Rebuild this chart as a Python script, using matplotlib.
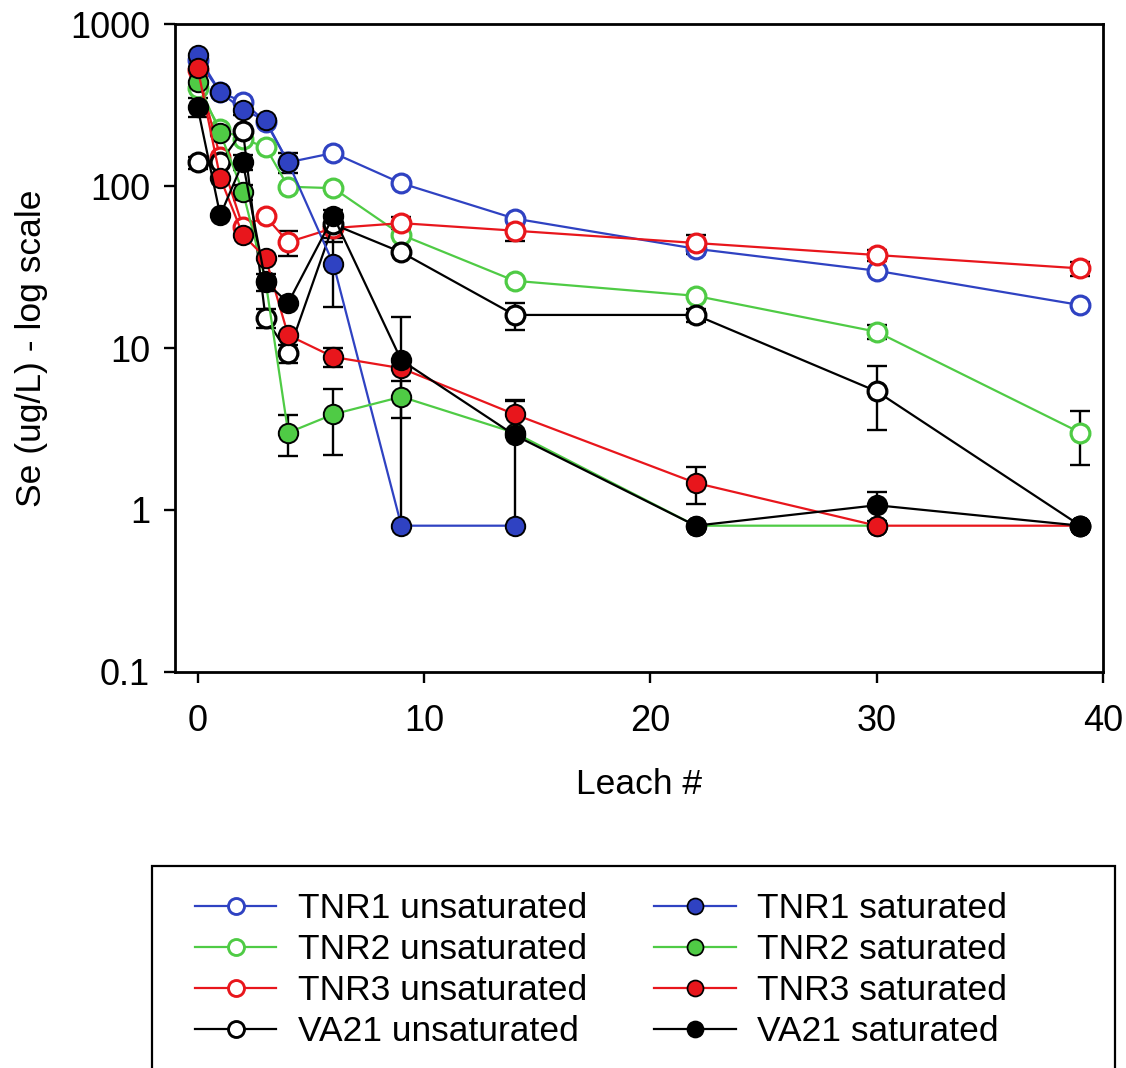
import numpy as np
import matplotlib.pyplot as plt
from matplotlib.lines import Line2D
from matplotlib.patches import Rectangle

plt.rcParams['font.family'] = ['Liberation Sans', 'DejaVu Sans']

# leach number (x)
leach = [0, 1, 2, 3, 4, 6, 9, 14, 22, 30, 39]

# Se concentrations (ug/L)
tnr1_unsat = [600, 380, 330, 250, 140, 160, 104, 63, 41, 30, 18.4]
tnr2_unsat = [400, 225, 195, 174, 99, 97, 50, 26, 21, 12.6, 3.0]
tnr3_unsat = [520, 150, 56, 65, 45, 55, 59, 53, 44.5, 37.5, 31]
va21_unsat = [140, 140, 220, 15.3, 9.3, 58, 39, 16, 16, 5.4, 0.8]

tnr1_sat = [640, 380, 295, 255, 140, 33, 0.8, 0.8]
tnr2_sat = [440, 212, 92, 26, 3.0, 3.9, 5.0, 3.0, 0.8, 0.8]
tnr3_sat = [535, 112, 50, 36, 12, 8.8, 7.5, 3.9, 1.47, 0.8, 0.8]
va21_sat = [307, 66, 140, 25.6, 19, 65, 8.4, 2.9, 0.8, 1.07, 0.8]

# error bars (0 = none visible)
tnr1_unsat_err = [0, 0, 0, 0, 0, 0, 0, 0, 3, 0, 0]
tnr2_unsat_err = [0, 0, 0, 0, 0, 0, 0, 0, 0, 1.2, 1.1]
tnr3_unsat_err = [0, 0, 0, 0, 8, 0, 5, 7, 5, 3, 3]
va21_unsat_err = [12, 0, 0, 2, 1.2, 13, 0, 3, 1.5, 2.3, 0]
tnr1_sat_err = [0, 0, 20, 0, 20, 15, 0, 0]
tnr2_sat_err = [0, 0, 10, 0, 0.85, 1.7, 1.3, 0, 0, 0]
tnr3_sat_err = [0, 0, 0, 0, 0, 1.2, 0, 0.9, 0.38, 0, 0]
va21_sat_err_lo = [40, 0, 15, 3, 0, 0, 7.6, 2.1, 0, 0.22, 0]
va21_sat_err_hi = [40, 0, 15, 3, 0, 0, 7.2, 1.8, 0, 0.22, 0]

blue = '#2f42c2'
green = '#4fcb45'
red = '#e8161c'
black = '#000000'

fig = plt.figure(figsize=(11.26, 10.68), dpi=100)
ax = fig.add_axes([0.1554, 0.3708, 0.8242, 0.6067])

series = [
    (tnr1_unsat, tnr1_unsat_err, tnr1_unsat_err, blue, False, 'TNR1 unsaturated'),
    (tnr2_unsat, tnr2_unsat_err, tnr2_unsat_err, green, False, 'TNR2 unsaturated'),
    (tnr3_unsat, tnr3_unsat_err, tnr3_unsat_err, red, False, 'TNR3 unsaturated'),
    (va21_unsat, va21_unsat_err, va21_unsat_err, black, False, 'VA21 unsaturated'),
    (tnr1_sat, tnr1_sat_err, tnr1_sat_err, blue, True, 'TNR1 saturated'),
    (tnr2_sat, tnr2_sat_err, tnr2_sat_err, green, True, 'TNR2 saturated'),
    (tnr3_sat, tnr3_sat_err, tnr3_sat_err, red, True, 'TNR3 saturated'),
    (va21_sat, va21_sat_err_lo, va21_sat_err_hi, black, True, 'VA21 saturated'),
]

handles = {}
for i, (y, elo, ehi, col, filled, lab) in enumerate(series):
    x = np.array(leach[:len(y)])
    y = np.array(y)
    elo = np.array(elo)
    ehi = np.array(ehi)
    m = (elo > 0) | (ehi > 0)
    if m.any():
        ax.errorbar(x[m], y[m], yerr=[elo[m], ehi[m]], fmt='none', ecolor='black',
                    elinewidth=1.7, capsize=7.5, capthick=1.7, zorder=1)
    if filled:
        h, = ax.plot(x, y, '-', color=col, lw=1.6, marker='o', ms=14,
                     mfc=col, mec='black', mew=1.4, zorder=3 + i, label=lab)
    else:
        h, = ax.plot(x, y, '-', color=col, lw=1.6, marker='o', ms=13.5,
                     mfc='white', mec=col, mew=2.3, zorder=3 + i, label=lab)
    handles[lab] = h

ax.set_yscale('log')
ax.set_ylim(0.1, 1000)
ax.set_xlim(-1, 40)
ax.set_xticks([0, 10, 20, 30, 40])
ax.set_yticks([0.1, 1, 10, 100, 1000])
ax.set_yticklabels(['0.1', '1', '10', '100', '1000'])
ax.minorticks_off()
ax.tick_params(axis='both', direction='out', length=8, width=1.7, labelsize=26)
ax.tick_params(axis='x', pad=15)
ax.tick_params(axis='y', pad=10)
for s in ax.spines.values():
    s.set_linewidth(2.0)

ax.set_xlabel('Leach #', fontsize=25.5, labelpad=21)
ax.set_ylabel('Se (ug/L) - log scale', fontsize=25.5, labelpad=16)

# legend box (drawn separately so it can be as wide as the original)
fig.patches.append(Rectangle((152 / 1126, -0.01), (1115 - 152) / 1126, 0.01 + (1068 - 866) / 1068,
                             transform=fig.transFigure, fill=False, edgecolor='black',
                             linewidth=1.6))

# legend in two columns below the plot
order = ['TNR1 unsaturated', 'TNR1 saturated', 'TNR2 unsaturated', 'TNR2 saturated',
         'TNR3 unsaturated', 'TNR3 saturated', 'VA21 unsaturated', 'VA21 saturated']
leg_order = order[0::2] + order[1::2]
leg_handles = []
for lab in leg_order:
    h = handles[lab]
    leg_handles.append(Line2D([], [], color=h.get_color(), lw=1.6, marker='o', ms=11.5,
                              mfc=h.get_markerfacecolor(), mec=h.get_markeredgecolor(),
                              mew=h.get_markeredgewidth() * 0.9))
leg = fig.legend(leg_handles, leg_order, ncol=2, loc='upper left',
                 bbox_to_anchor=(195 / 1126, 1 - 892 / 1068), fontsize=25.5,
                 frameon=False, handlelength=2.3, handletextpad=0.6,
                 columnspacing=1.9, labelspacing=0.23, borderpad=0, borderaxespad=0)

plt.savefig('out.png', dpi=100)
